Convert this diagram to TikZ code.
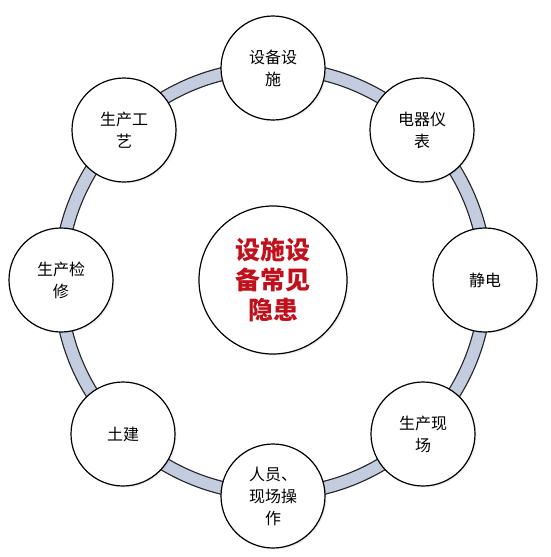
\documentclass[tikz,border=0pt]{standalone}
\usepackage{fontspec}
\newfontfamily\cjk{Noto Sans CJK SC}
\usetikzlibrary{shadows}
\definecolor{ringblue}{HTML}{C3CDDF}
\definecolor{hubred}{HTML}{C0101C}
\begin{document}
\begin{tikzpicture}[x=1pt,y=-1pt,
  ringline/.style={line width=14pt,black!85},
  ringfill/.style={line width=11.5pt,ringblue},
  item/.style={circle,draw,line width=1.2pt,fill=white,minimum size=104pt,inner sep=0pt,align=center,
    font=\cjk\fontsize{16}{22}\selectfont,
    drop shadow={opacity=0.15,shadow xshift=1.5pt,shadow yshift=-1.5pt}},
  hub/.style={item,minimum size=148pt,text=hubred,font=\cjk\bfseries\fontsize{25}{30}\selectfont}]
\useasboundingbox (0,0) rectangle (550,557);

\coordinate (o) at (273,281);
\draw[ringline] (o) circle[radius=213pt];
\draw[ringfill] (o) circle[radius=213pt];

\node[hub] (h) at (273,280) {设施设\\备常见\\隐患};

\node[item] (v1) at (273,68) {设备设\\施};
\node[item] (v2) at (422,130) {电器仪\\表};
\node[item] (v3) at (485,280) {静电};
\node[item] (v4) at (423,434) {生产现\\场};
\node[item] (v5) at (273,496) {人员、\\现场操\\作};
\node[item] (v6) at (123,434) {土建};
\node[item] (v7) at (61,280) {生产检\\修};
\node[item] (v8) at (124,130) {生产工\\艺};
\end{tikzpicture}
\end{document}
